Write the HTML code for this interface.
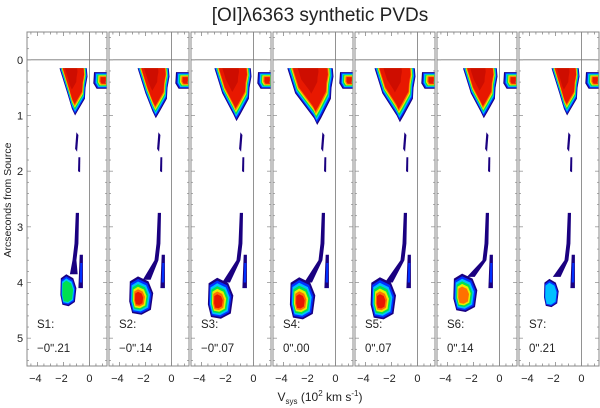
<!DOCTYPE html>
<html><head><meta charset="utf-8"><style>
html,body{margin:0;padding:0;background:#fff;}
svg{display:block;font-family:"Liberation Sans",sans-serif;}
</style></head><body>
<svg id="chart" width="600" height="408" viewBox="0 0 600 408" xmlns="http://www.w3.org/2000/svg">
<text x="320" y="21" text-anchor="middle" font-size="19" fill="#222">[OI]λ6363 synthetic PVDs</text>
<text transform="translate(11,200) rotate(-90)" text-anchor="middle" font-size="10.5" fill="#222">Arcseconds from Source</text>
<text x="320" y="401" text-anchor="middle" font-size="12" fill="#222">V<tspan font-size="8" dy="3">sys</tspan><tspan dy="-3"> (10</tspan><tspan font-size="8" dy="-5">2</tspan><tspan dy="5"> km s</tspan><tspan font-size="8" dy="-5">-1</tspan><tspan dy="5">)</tspan></text>
<g id="plots"></g>
</svg>
<script>
// ---- data ----
const panelLabels = ["S1:","S2:","S3:","S4:","S5:","S6:","S7:"];
const panelOffsets = ["−0ʺ.21","−0ʺ.14","−0ʺ.07","0ʺ.00","0ʺ.07","0ʺ.14","0ʺ.21"];
const xTicks = [-4,-2,0];
const yTicks = [0,1,2,3,4,5];
// upper wedge: left velocity edge, tip velocity, tip offset
const wedgeLeft = [-2.3,-2.6,-3.0,-3.7,-3.3,-2.8,-2.3];
const wedgeTipV = [-1.1,-1.2,-1.3,-1.4,-1.35,-1.2,-1.1];
const wedgeTipY = [1.0,1.05,1.1,1.17,1.12,1.05,1.0];
// lower knot: center velocity, center offset, half-width (vel), half-height (arcsec), number of contour levels
const knotV = [-1.6,-2.3,-2.5,-2.5,-2.6,-2.6,-2.3];
const knotY = [4.15,4.25,4.3,4.3,4.3,4.2,4.2];
const knotW = [0.6,0.9,0.95,0.95,0.95,0.9,0.55];
const knotH = [0.25,0.3,0.32,0.33,0.33,0.3,0.22];
const knotLevels = [4,7,7,7,7,6,3];
const levelColors = ["#1a0080","#0030ff","#00c0ff","#00e050","#e8f000","#ff7000","#e81800","#e81800"];

// ---- geometry ----
const PX0 = 27, PW = 80, PGAP = 2, TOP = 32, BOT = 366;
const VMIN = -4.8, VMAX = 1.35, YMIN = -0.5, YMAX = 5.5;
const NS = "http://www.w3.org/2000/svg";
const plots = document.getElementById("plots");
function xs(i, v){ return PX0 + i*(PW+PGAP) + (v - VMIN)/(VMAX - VMIN)*PW; }
function ys(a){ return TOP + (a - YMIN)/(YMAX - YMIN)*(BOT - TOP); }
function mk(tag, attrs, parent){ const e=document.createElementNS(NS,tag); for(const k in attrs) e.setAttribute(k,attrs[k]); parent.appendChild(e); return e; }
function poly(i, pts, cx, cy, s){ return pts.map(p=>xs(i, cx+(p[0]-cx)*s).toFixed(1)+","+ys(cy+(p[1]-cy)*s).toFixed(1)).join(" "); }
function levels(g, i, pts, cx, cy, n, name, step){
  for(let k=0;k<n;k++){
    const s = 1 - k*step;
    const p = mk("polygon",{points:poly(i,pts,cx,cy,s),fill:levelColors[k]},g);
    
    
  }
}

for(let i=0;i<7;i++){
  const g = mk("g",{},plots);
  
  
  const x0 = xs(i,VMIN), x1 = xs(i,VMAX);
  const zl = mk("line",{x1:xs(i,0),x2:xs(i,0),y1:TOP,y2:BOT,stroke:"#777","stroke-width":0.8},g);
  
  
  const hl = mk("line",{x1:x0,x2:x1,y1:ys(0),y2:ys(0),stroke:"#777","stroke-width":0.8},g);
  
  

  // wedge
  const L = wedgeLeft[i], tv = wedgeTipV[i], ty = wedgeTipY[i];
  const wpts = [[L,0.15],[-0.2,0.15],[-0.15,0.3],[-0.3,0.5],[-0.35,0.7],[tv+0.3,ty-0.12],[tv,ty],[tv-0.25,ty-0.12],[L+0.6,0.6],[L+0.2,0.3]];
  const wcx = (L-0.2)/2;
  levels(g,i,wpts,wcx,0.15,8,'upper-wedge',0.04);
  const core = mk("polygon",{points:poly(i,wpts,wcx-0.3,0.15,0.45),fill:"#b00000",opacity:0.45},g);
  
  
  // right blob
  const rpts = [[0.35,0.22],[1.35,0.22],[1.35,0.52],[0.55,0.52],[0.3,0.42]];
  levels(g,i,rpts,1.2,0.37,7,'right-blob',0.1);
  // dashes
  const d1 = mk("polygon",{points:poly(i,[[-1.0,1.3],[-0.85,1.35],[-0.95,1.65],[-1.1,1.6]],0,0,1),fill:"#1a0080"},g);
  
  
  const d2 = mk("polygon",{points:poly(i,[[-0.85,1.75],[-0.7,1.75],[-0.72,2.02],[-0.88,2.0]],0,0,1),fill:"#1a0080"},g);
  
  
  // tail
  const kv = knotV[i], ky = knotY[i];
  const tail = mk("polygon",{points:poly(i,[[-1.05,2.75],[-0.8,2.75],[-0.85,3.3],[-1.0,3.6],[kv+0.7,ky-0.3],[kv+0.1,ky-0.3],[-1.3,3.6],[-1.15,3.3]],0,0,1),fill:"#1a0080"},g);
  
  
  const tail2 = mk("polygon",{points:poly(i,[[-0.75,3.5],[-0.5,3.5],[-0.5,4.1],[-0.85,4.1]],0,0,1),fill:"#1a0080"},g);
  
  
  const tail3 = mk("polygon",{points:poly(i,[[-0.7,3.65],[-0.55,3.65],[-0.58,4.0],[-0.75,4.0]],0,0,1),fill:"#0030ff"},g);
  
  
  // knot
  const w = knotW[i], h = knotH[i];
  const kpts = [[kv-w,ky-h*0.9],[kv-w*0.3,ky-h*1.2],[kv+w*0.6,ky-h*0.9],[kv+w,ky-h*0.2],[kv+w*0.8,ky+h*0.8],[kv,ky+h*1.1],[kv-w*0.8,ky+h],[kv-w*1.05,ky+h*0.3]];
  levels(g,i,kpts,kv-w*0.3,ky+h*0.2,knotLevels[i],'lower-knot',0.11);

  const fr = mk("rect",{x:x0,y:TOP,width:PW,height:BOT-TOP,fill:"none",stroke:"#888","stroke-width":1},g);
  
  
  for(let v=-4.5; v<=1.01; v+=0.5){
    const major = Math.abs(v-Math.round(v))<0.01 && Math.round(v)%2===0;
    const len = major?4:2.5;
    const t1 = mk("line",{x1:xs(i,v),x2:xs(i,v),y1:TOP,y2:TOP+len,stroke:"#888","stroke-width":0.8},g);
    
    
    const t2 = mk("line",{x1:xs(i,v),x2:xs(i,v),y1:BOT,y2:BOT-len,stroke:"#888","stroke-width":0.8},g);
    
    
  }
  for(let a=-0.4; a<=5.41; a+=0.2){
    const major = Math.abs(a-Math.round(a))<0.01;
    const len = major?4:2;
    const t1 = mk("line",{x1:x0,x2:x0+len,y1:ys(a),y2:ys(a),stroke:"#888","stroke-width":0.7},g);
    
    
    const t2 = mk("line",{x1:x1,x2:x1-len,y1:ys(a),y2:ys(a),stroke:"#888","stroke-width":0.7},g);
    
    
  }
  xTicks.forEach(v=>{
    const t = mk("text",{x:xs(i,v)-(v<0?2:0),y:382,"text-anchor":"middle","font-size":11,fill:"#222"},g);
    t.textContent = v<0 ? "−"+(-v) : String(v);
    
    
  });
  const l1 = mk("text",{x:x0+10,y:328,"font-size":11.5,fill:"#222"},g);
  l1.textContent = panelLabels[i];
  
  
  const l2 = mk("text",{x:x0+10,y:352,"font-size":11.5,fill:"#222"},g);
  l2.textContent = panelOffsets[i];
  
  
}
yTicks.forEach(a=>{
  const t = mk("text",{x:20,y:ys(a)+4,"text-anchor":"middle","font-size":11,fill:"#222"},plots);
  t.textContent = String(a);
  
  
});
</script>
</body></html>
